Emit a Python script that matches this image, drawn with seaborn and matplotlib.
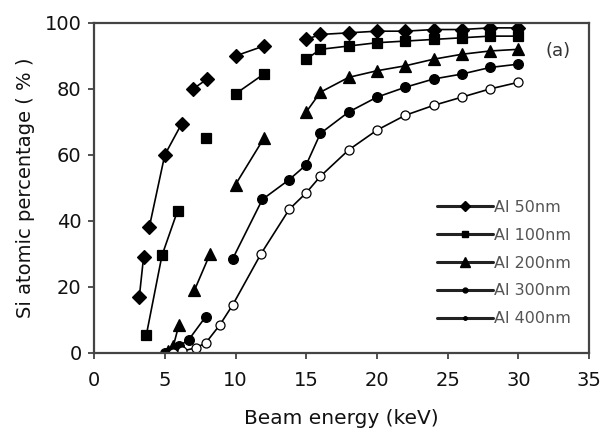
import numpy as np
import pandas as pd
import matplotlib
matplotlib.use("Agg")
import matplotlib.pyplot as plt
from matplotlib.lines import Line2D
import seaborn as sns

# Si atomic percentage vs. beam energy for Al films of different thickness.
# Each film is measured in several runs; a run is drawn as one connected segment.
films = ["Al 50nm", "Al 100nm", "Al 200nm", "Al 300nm", "Al 400nm"]

al50_energy = [[3.2, 3.5], [3.9, 5.0, 6.2], [7.0, 8.0], [10.0, 12.0],
               [15, 16, 18, 20, 22, 24, 26, 28, 30]]
al50_si = [[17, 29], [38, 60, 69.5], [80, 83], [90, 93],
           [95, 96.5, 97, 97.5, 97.5, 98, 98, 98.5, 98.5]]

al100_energy = [[3.7, 4.8, 5.9], [7.9], [10.0, 12.0],
                [15, 16, 18, 20, 22, 24, 26, 28, 30]]
al100_si = [[5.5, 29.5, 43], [65], [78.5, 84.5],
            [89, 92, 93, 94, 94.5, 95, 95.5, 96, 96]]

al200_energy = [[5.2, 5.6, 6.0], [7.1, 8.2], [10.0, 12.0],
                [15, 16, 18, 20, 22, 24, 26, 28, 30]]
al200_si = [[0.5, 2, 8.5], [19, 30], [51, 65],
            [73, 79, 83.5, 85.5, 87, 89, 90.5, 91.5, 92]]

al300_energy = [[5.0, 5.5, 6.0, 6.7, 7.9],
                [9.8, 11.9, 13.8, 15, 16, 18, 20, 22, 24, 26, 28, 30]]
al300_si = [[0, 0.5, 2, 4, 11],
            [28.5, 46.5, 52.5, 57, 66.5, 73, 77.5, 80.5, 83, 84.5, 86.5, 87.5]]

al400_energy = [[5.6, 6.2, 7.2, 7.9, 8.9, 9.8, 11.8, 13.8, 15, 16,
                 18, 20, 22, 24, 26, 28, 30]]
al400_si = [[0, 0.5, 1.5, 3, 8.5, 14.5, 30, 43.5, 48.5, 53.5,
             61.5, 67.5, 72, 75, 77.5, 80, 82]]

x_ticks = [0, 5, 10, 15, 20, 25, 30, 35]
y_ticks = [0, 20, 40, 60, 80, 100]

series = {
    "Al 50nm": (al50_energy, al50_si),
    "Al 100nm": (al100_energy, al100_si),
    "Al 200nm": (al200_energy, al200_si),
    "Al 300nm": (al300_energy, al300_si),
    "Al 400nm": (al400_energy, al400_si),
}

rows = []
for film, (energies, values) in series.items():
    for seg, (xs, ys) in enumerate(zip(energies, values)):
        for x, y in zip(xs, ys):
            rows.append({"film": film, "segment": seg, "energy": x, "si": y})
df = pd.DataFrame(rows)

styles = {
    "Al 50nm": dict(marker="D", markersize=7.5, markerfacecolor="black"),
    "Al 100nm": dict(marker="s", markersize=7.5, markerfacecolor="black"),
    "Al 200nm": dict(marker="^", markersize=9, markerfacecolor="black"),
    "Al 300nm": dict(marker="o", markersize=7, markerfacecolor="black"),
    "Al 400nm": dict(marker="o", markersize=6.5, markerfacecolor="white"),
}

sns.set_style("ticks")
plt.rcParams["font.family"] = ["DejaVu Sans"]

fig = plt.figure(figsize=(6.03, 4.41), dpi=100)
ax = fig.add_axes([0.156, 0.2, 0.821, 0.748])

for film in films:
    sub = df[df["film"] == film]
    sns.lineplot(data=sub, x="energy", y="si", units="segment", estimator=None,
                 color="black", linewidth=1.2, markeredgecolor="black",
                 markeredgewidth=0.9, ax=ax, legend=False, **styles[film])

ax.set_xlim(0, 35)
ax.set_ylim(0, 100)
ax.set_xticks(x_ticks)
ax.set_yticks(y_ticks)
ax.tick_params(axis="both", direction="out", length=4, width=1.2,
               color="#333333", labelsize=14, labelcolor="#111111")
ax.tick_params(axis="x", pad=9)
ax.tick_params(axis="y", pad=5)
for side in ["left", "bottom", "top", "right"]:
    ax.spines[side].set_visible(True)
    ax.spines[side].set_linewidth(1.6)
    ax.spines[side].set_color("#444444")

ax.set_xlabel("Beam energy (keV)", fontsize=14.5, labelpad=14, color="#111111")
ax.set_ylabel("Si atomic percentage ( % )", fontsize=14, labelpad=7,
              color="#111111")

ax.text(32.8, 91.5, "(a)", fontsize=13, color="#333333", ha="center", va="center")

legend_markers = [("D", 5, "black"), ("s", 4, "black"), ("^", 7, "black"),
                  ("o", 3.5, "black"), ("o", 2.5, "black")]
handles = [Line2D([0], [0], color="#222222", linewidth=2.2, marker=m,
                  markersize=s, markerfacecolor=fc, markeredgecolor="black")
           for m, s, fc in legend_markers]
leg = ax.legend(handles, films, loc="center left", bbox_to_anchor=(0.676, 0.272),
                frameon=False, fontsize=11.5, handlelength=3.5, handletextpad=0.1,
                labelspacing=0.8, borderpad=0)
for t in leg.get_texts():
    t.set_color("#555555")

fig.savefig("out.png", dpi=100)
